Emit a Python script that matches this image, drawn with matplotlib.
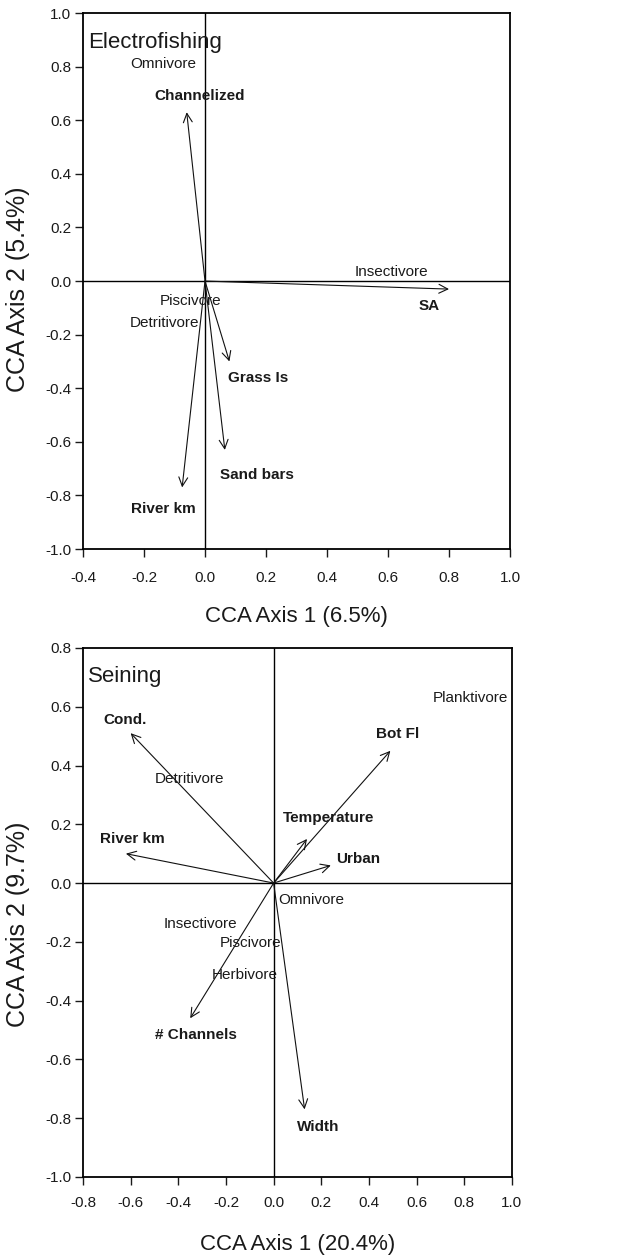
import matplotlib
matplotlib.use("Agg")
import matplotlib.pyplot as plt
import numpy as np

plt.rcParams['font.family'] = ['Liberation Sans', 'DejaVu Sans']
plt.rcParams['axes.unicode_minus'] = False

# Electrofishing: environmental vectors (arrow tips) and guild labels
ef_vars = ["Channelized", "SA", "Grass Is", "Sand bars", "River km"]
ef_vx = [-0.06, 0.80, 0.08, 0.065, -0.075]
ef_vy = [0.63, -0.03, -0.30, -0.63, -0.77]
ef_var_lx = [-0.167, 0.70, 0.074, 0.049, -0.244]
ef_var_ly = [0.69, -0.093, -0.363, -0.724, -0.851]
ef_guilds = ["Omnivore", "Insectivore", "Piscivore", "Detritivore"]
ef_gx = [-0.245, 0.49, -0.15, -0.246]
ef_gy = [0.81, 0.035, -0.075, -0.157]

# Seining
se_vars = ["Cond.", "Bot Fl", "Temperature", "River km", "Urban", "# Channels", "Width"]
se_vx = [-0.60, 0.49, 0.14, -0.62, 0.24, -0.35, 0.13]
se_vy = [0.51, 0.45, 0.15, 0.10, 0.06, -0.46, -0.77]
se_var_lx = [-0.714, 0.429, 0.039, -0.728, 0.261, -0.497, 0.10]
se_var_ly = [0.554, 0.506, 0.222, 0.149, 0.083, -0.518, -0.829]
se_guilds = ["Planktivore", "Detritivore", "Omnivore", "Insectivore", "Piscivore", "Herbivore"]
se_gx = [0.666, -0.50, 0.018, -0.462, -0.227, -0.259]
se_gy = [0.63, 0.353, -0.059, -0.138, -0.203, -0.314]

ef_xticks = [-0.4, -0.2, 0.0, 0.2, 0.4, 0.6, 0.8, 1.0]
ef_yticks = [-1.0, -0.8, -0.6, -0.4, -0.2, 0.0, 0.2, 0.4, 0.6, 0.8, 1.0]
se_xticks = [-0.8, -0.6, -0.4, -0.2, 0.0, 0.2, 0.4, 0.6, 0.8, 1.0]
se_yticks = [-1.0, -0.8, -0.6, -0.4, -0.2, 0.0, 0.2, 0.4, 0.6, 0.8]


def draw_panel(ax, title, vars_, vx, vy, lx, ly, guilds, gx, gy,
               xlim, ylim, xticks, yticks, xlabel, ylabel, xpad, xlab_y, ylab_y):
    ax.set_xlim(xlim)
    ax.set_ylim(ylim)
    ax.axhline(0, color='k', lw=1.0)
    ax.axvline(0, color='k', lw=1.0)
    for x, y in zip(vx, vy):
        ax.annotate('', xy=(x, y), xytext=(0, 0),
                    arrowprops=dict(arrowstyle='->', color='#111111', lw=0.8,
                                    shrinkA=0, shrinkB=0, mutation_scale=16))
    for name, x, y in zip(vars_, lx, ly):
        ax.text(x, y, name, fontsize=11, fontweight='bold', ha='left', va='center',
                color='#1a1a1a')
    for name, x, y in zip(guilds, gx, gy):
        ax.text(x, y, name, fontsize=11, ha='left', va='center', color='#1a1a1a')
    ax.text(0.012, 0.965, title, transform=ax.transAxes, fontsize=16,
            ha='left', va='top', color='#1a1a1a')
    ax.set_xticks(xticks)
    ax.set_yticks(yticks)
    ax.set_xticklabels(["%.1f" % t for t in xticks])
    ax.set_yticklabels(["%.1f" % t for t in yticks])
    ax.tick_params(direction='out', length=5.5, width=1.0, labelsize=11,
                   top=False, right=False, colors='#1a1a1a')
    ax.tick_params(axis='x', pad=xpad)
    ax.tick_params(axis='y', pad=3)
    for s in ax.spines.values():
        s.set_linewidth(1.3)
    ax.set_xlabel(xlabel, fontsize=16, color='#1a1a1a')
    ax.set_ylabel(ylabel, fontsize=18, color='#1a1a1a')
    ax.xaxis.set_label_coords(0.5, xlab_y)
    ax.yaxis.set_label_coords(-0.124, ylab_y)


fig = plt.figure(figsize=(6.27, 12.55), dpi=100)
ax1 = fig.add_axes([0.1324, 0.5625, 0.681, 0.4271])
ax2 = fig.add_axes([0.1324, 0.0622, 0.684, 0.4215])

draw_panel(ax1, "Electrofishing", ef_vars, ef_vx, ef_vy, ef_var_lx, ef_var_ly,
           ef_guilds, ef_gx, ef_gy, (-0.4, 1.0), (-1.0, 1.0),
           ef_xticks, ef_yticks,
           "CCA Axis 1 (6.5%)", "CCA Axis 2 (5.4%)", 10, -0.107, 0.485)
draw_panel(ax2, "Seining", se_vars, se_vx, se_vy, se_var_lx, se_var_ly,
           se_guilds, se_gx, se_gy, (-0.8, 1.0), (-1.0, 0.8),
           se_xticks, se_yticks,
           "CCA Axis 1 (20.4%)", "CCA Axis 2 (9.7%)", 8, -0.107, 0.478)

fig.savefig("out.png", dpi=100)
